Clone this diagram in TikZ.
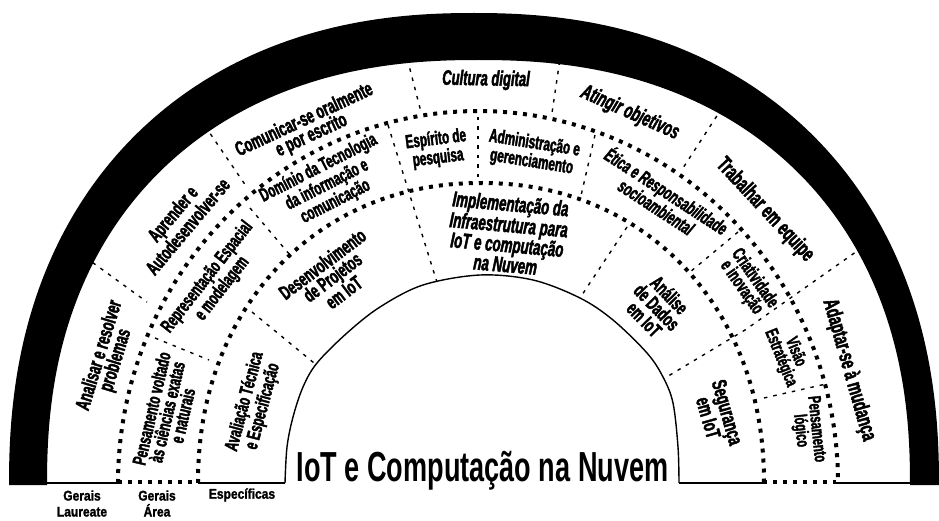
\documentclass[tikz,border=0pt]{standalone}
\usepackage{fontspec}
\setmainfont{Liberation Sans}
\newfontfamily\labfont[FakeStretch=0.62,FakeBold=2]{Liberation Sans}
\newfontfamily\botfont[FakeStretch=0.86,FakeBold=1.5]{Liberation Sans}
\newfontfamily\titfont[FakeStretch=0.645]{Liberation Sans}
\begin{document}
\begin{tikzpicture}[x=1pt,y=-1pt,
  ringline/.style={line width=4pt, dash pattern=on 4pt off 6pt},
  sepline/.style={line width=1.4pt, dash pattern=on 3.5pt off 6pt},
  lab/.style={align=center, inner sep=0pt},
  fsz/.style 2 args={font=\labfont\bfseries\fontsize{#1}{#2}\selectfont},
  ifsz/.style 2 args={font=\labfont\bfseries\itshape\fontsize{#1}{#2}\selectfont},
  bot/.style={align=center, inner sep=0pt, font=\botfont\bfseries\fontsize{14}{16}\selectfont}]
\useasboundingbox (0,0) rectangle (939,521);
\fill[white] (0,0) rectangle (939,521);

% thin dashed separators (ends hidden under band / hub)
\draw[sepline] (85,257) -- (147,302);
\draw[sepline] (205,126) -- (246,186);
\draw[sepline] (405,50) -- (421,112);
\draw[sepline] (561,52) -- (552,113);
\draw[sepline] (722,108) -- (683,168);
\draw[sepline] (870,242) -- (745,330) -- (645,390);
\draw[sepline] (155,338) -- (209,360);
\draw[sepline] (250,208) -- (290,255);
\draw[sepline] (388,125) -- (440,292);
\draw[sepline] (478,117) -- (478,182);
\draw[sepline] (595,135) -- (580,200);
\draw[sepline] (738,232) -- (690,272);
\draw[sepline] (764,398) -- (826,384);
\draw[sepline] (252,312) -- (325,372);
\draw[sepline] (627,227) -- (572,310);

% black band
\fill[black] plot[domain=180:0, samples=181, variable=\t]
  ({474+465*cos(\t)*exp(-0.1111*ln(abs(cos(\t))+0.0001))},{485-472*sin(\t)*exp(-0.1111*ln(abs(sin(\t))+0.0001))})
  -- plot[domain=0:180, samples=181, variable=\t]
  ({478.5+431.5*cos(\t)*exp(-0.1228*ln(abs(cos(\t))+0.0001))},{485-425*sin(\t)*exp(-0.1228*ln(abs(sin(\t))+0.0001))})
  -- cycle;

% hub
\filldraw[fill=white, line width=1.4pt] plot[smooth, tension=0.55] coordinates {(285,483) (287,447) (293,417) (303,387) (317,363) (347,333) (380,307) (423,285) (480,275) (533,280) (580,298) (613,320) (647,353) (663,377) (673,403) (678,447) (679,483)};

% dotted ring boundaries
\draw[ringline] plot[domain=180:0, samples=121, variable=\t] ({478+360*cos(\t)},{483-372*sin(\t)});
\draw[ringline] plot[domain=180:0, samples=121, variable=\t]
  ({481+283*cos(\t)*exp(-0.0476*ln(abs(cos(\t))+0.0001))},{483-300*sin(\t)*exp(-0.0476*ln(abs(sin(\t))+0.0001))});

% baseline
\draw[line width=1.8pt] (47,483) -- (118,483);
\draw[line width=1.8pt] (198,483) -- (285,483);
\draw[line width=1.8pt] (679,483) -- (763,483);
\draw[line width=1.8pt] (836,483) -- (910,483);
\draw[ringline] (118,482) -- (198,482);
\draw[ringline] (763,482) -- (836,482);

% Gerais Laureate
\node[lab, rotate=73, fsz={20.5}{17}] (analisar) at (108,358) {Analisar e resolver\\problemas};
\node[lab, rotate=50, fsz={20}{17}] (aprender) at (180,220) {Aprender e\\Autodesenvolver-se};
\node[lab, rotate=25, fsz={20.5}{17}] (comunicar) at (308,128) {Comunicar-se oralmente\\e por escrito};
\node[lab, rotate=-1, ifsz={21}{18}] (cultura) at (486,80) {Cultura digital};
\node[lab, rotate=-24, ifsz={21.5}{18}] (atingir) at (630,113) {Atingir objetivos};
\node[lab, rotate=-47, fsz={22}{18}] (trabalhar) at (765,210) {Trabalhar em equipe};
\node[lab, rotate=-74, fsz={22}{18}] (adaptar) at (849,370) {Adaptar-se à mudança};

% Gerais Area
\node[lab, rotate=77, fsz={19}{16}] (pensvolt) at (167,412) {Pensamento voltado\\às ciências exatas\\e naturais};
\node[lab, rotate=52, fsz={19}{16}] (repr) at (215,283) {Representação Espacial\\e modelagem};
\node[lab, rotate=27, fsz={19}{15.5}] (dominio) at (327,185) {Domínio da Tecnologia\\da informação e\\comunicação};
\node[lab, rotate=7, fsz={19}{15.5}] (espirito) at (437,149) {Espírito de\\pesquisa};
\node[lab, rotate=-9, fsz={19}{15.5}] (admin) at (533,153) {Administração e\\gerenciamento};
\node[lab, rotate=-33, ifsz={19}{16}] (etica) at (662,198) {Ética e Responsabilidade\\socioambiental};
\node[lab, rotate=-55, fsz={19}{16}] (criat) at (748,283) {Criatividade\\e inovação};
\node[lab, rotate=-68, fsz={18}{16}] (visao) at (788,355) {Visão\\Estratégica};
\node[lab, rotate=-84, fsz={18}{16}] (penslog) at (808,430) {Pensamento\\lógico};

% Especificas
\node[lab, rotate=75, fsz={19}{17}] (aval) at (254,404) {Avaliação Técnica\\e Especificação};
\node[lab, rotate=37, fsz={20}{16.5}] (desenv) at (333,278) {Desenvolvimento\\de Projetos\\em IoT};
\node[lab, rotate=-5, ifsz={21.5}{20}] (implem) at (508,234) {Implementação da\\Infraestrutura para\\IoT e computação\\na Nuvem};
\node[lab, rotate=-46, fsz={20}{17.5}] (analise) at (657,307) {Análise\\de Dados\\em IoT};
\node[lab, rotate=-74, fsz={21}{18}] (seguranca) at (718,415) {Segurança\\em IoT};

% bottom legend
\node[bot] (gl) at (82,503.5) {Gerais\\Laureate};
\node[bot] (ga) at (157,503.5) {Gerais\\Área};
\node[bot] (esp) at (242,495) {Específicas};

% title
\node[anchor=base, inner sep=0pt, font=\titfont\bfseries\fontsize{42}{42}\selectfont] (titulo) at (482.5,481) {IoT e Computação na Nuvem};
\end{tikzpicture}
\end{document}
